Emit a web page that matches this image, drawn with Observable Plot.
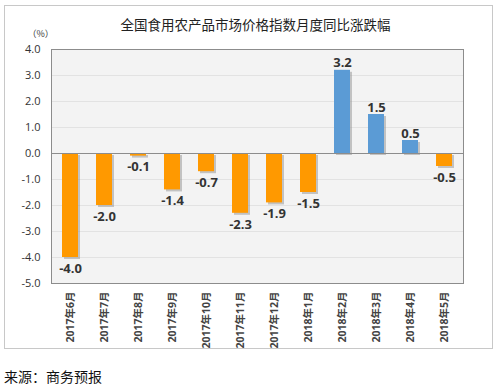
<!DOCTYPE html>
<html><head><meta charset="utf-8">
<script src="https://cdn.jsdelivr.net/npm/d3@7"></script>
<script src="https://cdn.jsdelivr.net/npm/@observablehq/plot@0.6"></script>
<style>
body{margin:0;background:#fff;font-family:"Open Sans","Noto Sans CJK SC",sans-serif;}
#wrap{position:relative;width:503px;height:388px;}
#box{position:absolute;left:4px;top:5px;width:489px;height:344px;border:1px solid #c8c8c8;box-sizing:border-box;}
#chart{position:absolute;left:0;top:0;}
#cap{position:absolute;left:4px;top:366px;font-size:14px;font-family:"Noto Sans CJK SC",sans-serif;color:#111;}
</style></head>
<body><div id="wrap"><div id="box"></div><div id="chart"></div><div id="cap">来源：商务预报</div></div>
<script>
const months = ["2017年6月","2017年7月","2017年8月","2017年9月","2017年10月","2017年11月","2017年12月","2018年1月","2018年2月","2018年3月","2018年4月","2018年5月"];
const values = [-4.0,-2.0,-0.1,-1.4,-0.7,-2.3,-1.9,-1.5,3.2,1.5,0.5,-0.5];
const yTicks = [-5,-4,-3,-2,-1,0,1,2,3,4];
const title = "全国食用农产品市场价格指数月度同比涨跌幅";
const unit = "（%）";
const colorUp = "#5b9bd5", colorDown = "#ff9900";

const data = months.map((m,i)=>({month:m, value:values[i]}));

const chart = Plot.plot({
  width: 503, height: 355,
  marginLeft: 51, marginRight: 40, marginTop: 49, marginBottom: 72,
  style: {fontFamily: '"Open Sans","Noto Sans CJK SC",sans-serif', background: "transparent", color: "#333"},
  x: {domain: months, paddingInner: 0.53, paddingOuter: 0.265, label: null, tickRotate: -90, tickSize: 0, tickPadding: 8},
  y: {domain: [-5, 4], ticks: yTicks, tickFormat: d => d.toFixed(1), label: null, tickSize: 0, tickPadding: 11},
  marks: [
    Plot.frame({fill: "#f3f3f3", stroke: "none"}),
    Plot.gridY(yTicks, {stroke: "#e2e2e2", strokeOpacity: 1}),
    Plot.barY(data, {x: "month", y: "value", fill: "#999", fillOpacity: 0.55, dx: 2, dy: 2}),
    Plot.barY(data, {x: "month", y: "value", fill: d => d.value >= 0 ? colorUp : colorDown}),
    Plot.ruleY([0], {stroke: "#8c8c8c"}),
    Plot.frame({stroke: "#8c8c8c"}),
    Plot.text(data, {x: "month", y: "value", text: d => d.value.toFixed(1),
      lineAnchor: "bottom", fontWeight: "bold", fontSize: 13, fill: "#333",
      filter: d => d.value >= 0, dy: -3}),
    Plot.text(data, {x: "month", y: "value", text: d => d.value.toFixed(1),
      lineAnchor: "top", fontWeight: "bold", fontSize: 13, fill: "#333",
      filter: d => d.value < 0, dy: 6}),
    Plot.text([title], {frameAnchor: "top", dx: -2, dy: -29, fontSize: 13.5, fill: "#222", fontFamily: '"Noto Sans CJK SC",sans-serif'}),
    Plot.text([unit], {frameAnchor: "top-left", dx: -24, dy: -19, fontSize: 9, fill: "#333", fontFamily: '"Noto Sans CJK SC",sans-serif'})
  ]
});
chart.querySelectorAll("g[aria-label='x-axis tick label']").forEach(g=>{g.setAttribute("font-size","10.5");g.setAttribute("font-weight","bold");g.setAttribute("fill","#444");});
chart.querySelectorAll("g[aria-label='y-axis tick label']").forEach(g=>{g.setAttribute("font-size","11");g.setAttribute("fill","#333");});
document.getElementById("chart").appendChild(chart);
</script></body></html>
